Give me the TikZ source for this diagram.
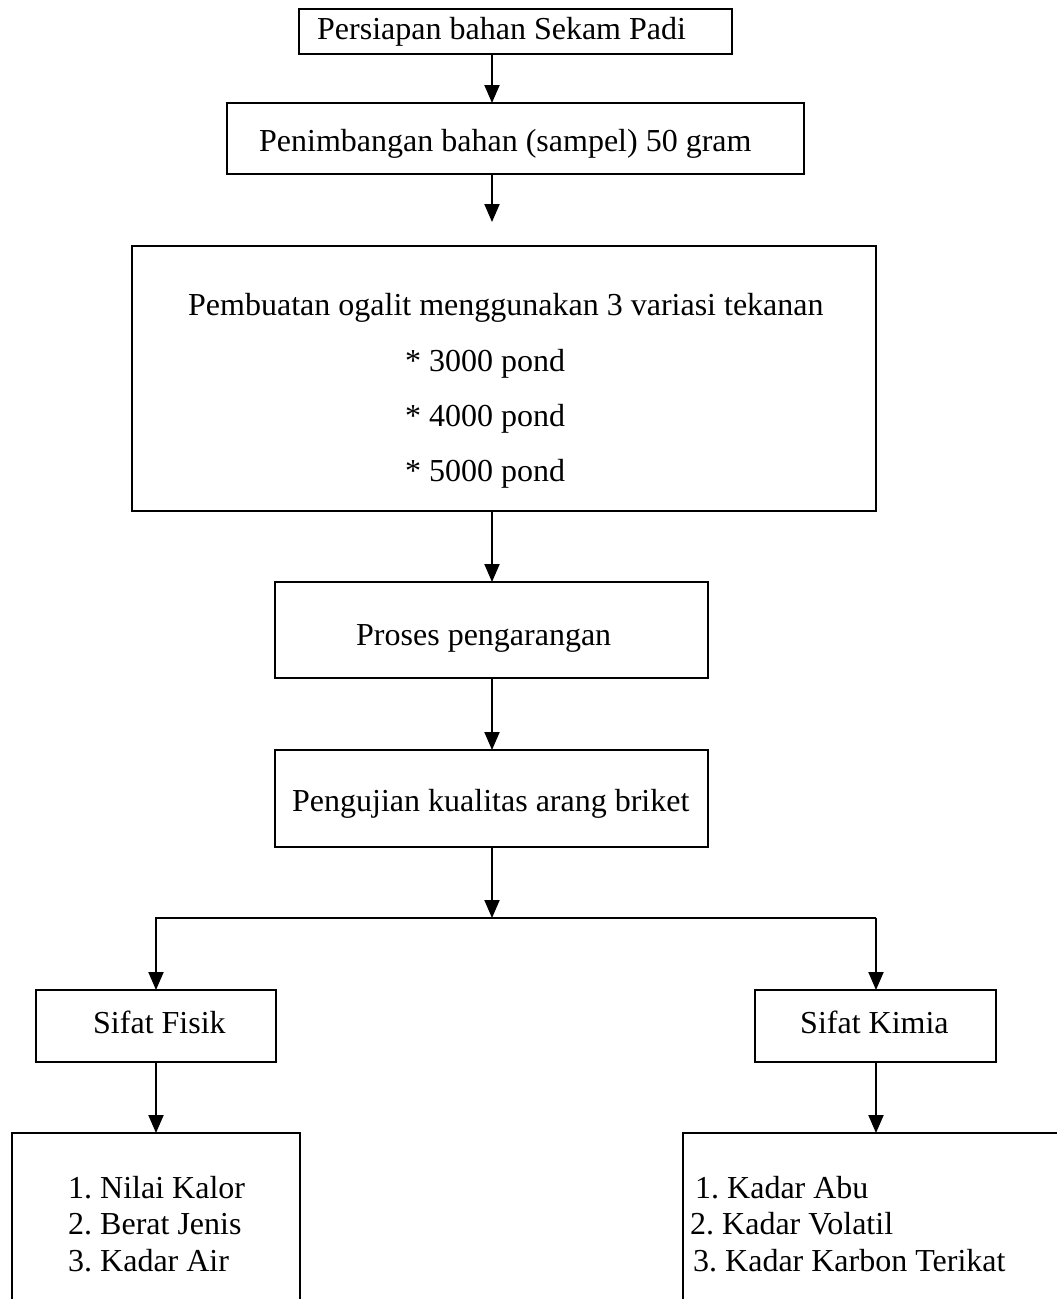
\documentclass[tikz,border=0pt]{standalone}
\usepackage{fontspec}
\setmainfont{Liberation Serif}
\usetikzlibrary{arrows.meta,calc}
\frenchspacing
\tikzset{
  box/.style={draw, line width=2pt, inner sep=0pt, outer sep=0pt},
  txt/.style={anchor=base west, inner sep=0pt, font=\fontsize{32}{38}\selectfont\frenchspacing},
  arr/.style={line width=2pt, -{Triangle[width=15pt,length=18pt]}},
  ln/.style={line width=2pt}
}
\begin{document}
\begin{tikzpicture}[x=1pt,y=-1pt]
\useasboundingbox (0,0) rectangle (1057,1299);
\clip (0,0) rectangle (1057,1299);
\fill[white] (0,0) rectangle (1057,1299);
% boxes
\node[box, minimum width=433pt, minimum height=45pt]  (n1) at (515.5,31.5) {};
\node[box, minimum width=577pt, minimum height=71pt]  (n2) at (515.5,138.5) {};
\node[box, minimum width=744pt, minimum height=265pt] (n3) at (504,378.5) {};
\node[box, minimum width=433pt, minimum height=96pt]  (n4) at (491.5,630) {};
\node[box, minimum width=433pt, minimum height=97pt]  (n5) at (491.5,798.5) {};
\node[box, minimum width=240pt, minimum height=72pt]  (n6) at (156,1026) {};
\node[box, minimum width=241pt, minimum height=72pt]  (n7) at (875.5,1026) {};
\node[box, minimum width=288pt, minimum height=207pt] (n8) at (156,1236.5) {};
\node[box, minimum width=417pt, minimum height=207pt] (n9) at (891.5,1236.5) {};
% texts
\node[txt] (t1) at (317,39) {Persiapan bahan Sekam Padi};
\node[txt] (t2) at (259,151) {Penimbangan bahan (sampel) 50 gram};
\node[txt] (t3) at (188,315.5) {Pembuatan ogalit menggunakan 3 variasi tekanan};
\node[txt] (t3a) at (405,371) {* 3000 pond};
\node[txt] (t3b) at (405,426) {* 4000 pond};
\node[txt] (t3c) at (405,481) {* 5000 pond};
\node[txt] (t4) at (356,645.5) {Proses pengarangan};
\node[txt] (t5) at (292,811.5) {Pengujian kualitas arang briket};
\node[txt] (t6) at (93,1033) {Sifat Fisik};
\node[txt] (t7) at (800,1033) {Sifat Kimia};
\node[txt] (t8a) at (68,1198) {1. Nilai Kalor};
\node[txt] (t8b) at (68,1234) {2. Berat Jenis};
\node[txt] (t8c) at (68,1271) {3. Kadar Air};
\node[txt] (t9a) at (695,1198) {1. Kadar Abu};
\node[txt] (t9b) at (690,1234) {2. Kadar Volatil};
\node[txt] (t9c) at (693,1271) {3. Kadar Karbon Terikat};
% connectors
\coordinate (ax) at (492,0);
\coordinate (j) at (492,918);
\coordinate (jl) at (156,918);
\coordinate (jr) at (876,918);
\draw[arr] (n1.south -| ax) -- (n2.north -| ax);
\draw[arr] (n2.south -| ax) -- ($(n3.north -| ax)+(0,-24)$);
\draw[arr] (n3.south -| ax) -- (n4.north -| ax);
\draw[arr] (n4.south -| ax) -- (n5.north -| ax);
\draw[arr] (n5.south -| ax) -- (j);
\draw[arr] (jr) -- (jl) -- (n6.north);
\draw[arr] (jr) -- (n7.north -| jr);
\draw[arr] (n6.south) -- (n8.north);
\draw[arr] (n7.south -| jr) -- (n9.north -| jr);
\end{tikzpicture}
\end{document}
